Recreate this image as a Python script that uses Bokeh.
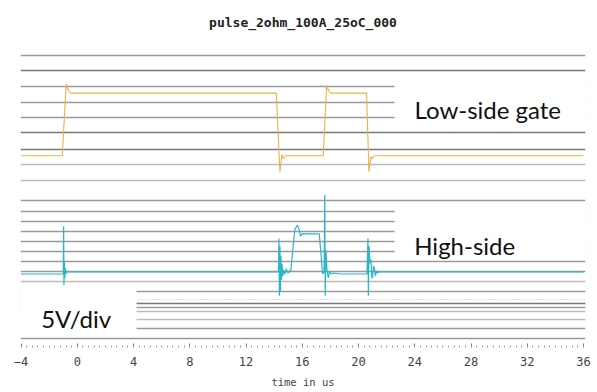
from bokeh.plotting import figure
from bokeh.models import Range1d, Grid, FixedTicker, SingleIntervalTicker, BoxAnnotation, Label
from bokeh.embed import file_html
from bokeh.resources import INLINE

# ---------------- data ----------------
title_text = "pulse_2ohm_100A_25oC_000"
x_label = "time in us"

# Low-side gate trace: time (us) / voltage (V)
gate_t = [-4.0, -1.07, -0.79, -0.70, -0.58, -0.43, 14.15, 14.41, 14.55, 14.66, 14.78,
          17.49, 17.73, 17.82, 17.94, 18.06, 20.57, 20.74, 20.87, 20.99, 21.13, 36.0]
gate_v = [-5.0, -5.0, 17.9, 16.6, 15.5, 15.0, 15.0, -10.1, -4.6, -5.9, -5.0,
          -5.0, 17.5, 16.4, 15.4, 15.0, 15.0, -10.1, -5.3, -6.0, -5.0, -5.0]

# High-side trace: time (us) / voltage (V)
hs_t = [-4.0, -1.00, -0.97, -0.95, -0.92, -0.89, -0.86, -0.82, -0.76, -0.68,
        14.30, 14.34, 14.37, 14.41, 14.44, 14.48, 14.52, 14.56, 14.61, 14.68, 14.76, 14.86, 14.98, 15.10, 15.17,
        15.47, 15.64, 15.78, 15.88, 16.02, 16.16, 17.21, 17.44, 17.55,
        17.60, 17.63, 17.68, 17.75, 17.85, 17.94, 18.05, 18.23, 18.72,
        20.60, 20.67, 20.70, 20.75, 20.81, 20.88, 20.95, 21.00, 21.06, 21.12, 21.20, 21.28, 21.36, 21.45, 36.0]
hs_v = [-6.0, -6.0, 18.0, -11.5, 0.0, -8.0, -3.0, -6.0, -4.5, -5.0,
        -5.0, 11.9, -17.0, 8.0, -15.0, 3.0, -9.0, -1.0, -7.0, -4.0, -6.0, -3.5, -5.5, -4.5, -5.0,
        16.4, 18.5, 16.5, 13.0, 14.3, 14.2, 14.2, -6.0, -5.0,
        33.8, -17.0, 6.0, -3.5, -8.0, -4.5, -6.0, -5.5, -6.0,
        -6.0, 11.9, -17.0, 8.0, -0.5, 1.3, -8.0, -7.7, -2.0, -3.0, -7.0, -4.5, -5.5, -5.0, -5.0]

annotations = ["Low-side gate", "High-side", "5V/div"]

# horizontal raster lines of the scope screen (vertical position on the screen)
grid_mid = [294.3, 263, 247, 231.3, 147.7, 137.3, 127.3, 116.7, 106.7, 96.7, 86.7, 76.3, 56.3, 40.3, 18.7, 9.5]
grid_dark = [278.7, 216, 199.7, 44.3]
grid_light = [183.7, 168.3, 66.4, 36, 27.7]
grid_dotted = [48.3]

# ---------------- figure ----------------
p = figure(width=597, height=392, output_backend="svg", toolbar_location=None,
           x_range=Range1d(-4.04, 36.14), y_range=Range1d(0, 307),
           y_axis_location=None, min_border_left=20, min_border_right=12,
           min_border_top=40, min_border_bottom=45)
p.outline_line_color = None
p.background_fill_color = "white"
p.border_fill_color = "white"
p.xgrid.visible = False
p.ygrid.visible = False

p.extra_y_ranges = {
    "gate": Range1d(-66.27, 31.19),
    "hs": Range1d(-43.0, 110.5),
}

p.title.text = title_text
p.title.align = "center"
p.title.text_font = "DejaVu Sans Mono"
p.title.text_font_size = "13px"
p.title.text_font_style = "bold"
p.title.text_color = "#222222"
p.title.standoff = 25

for ticks, color, width, dash in [(grid_mid, "#9a9a9a", 1.3, "solid"),
                                  (grid_dark, "#777777", 1.3, "solid"),
                                  (grid_light, "#bcbcbc", 1.3, "solid"),
                                  (grid_dotted, "#c4c4c4", 1.2, "1 2")]:
    g = Grid(dimension=1, ticker=FixedTicker(ticks=ticks),
             grid_line_color=color, grid_line_width=width, grid_line_dash=dash)
    p.add_layout(g)

ax = p.xaxis[0]
ax.ticker = SingleIntervalTicker(interval=4, num_minor_ticks=10)
ax.axis_line_color = None
ax.major_tick_in = 4
ax.major_tick_out = 0
ax.minor_tick_in = 2
ax.minor_tick_out = 0
ax.major_tick_line_color = "#777777"
ax.minor_tick_line_color = "#999999"
ax.major_label_text_font = "DejaVu Sans Mono"
ax.major_label_text_font_size = "12px"
ax.major_label_text_color = "#444444"
ax.major_label_standoff = 9
ax.axis_label = x_label
ax.axis_label_text_font = "DejaVu Sans Mono"
ax.axis_label_text_font_size = "10.5px"
ax.axis_label_text_font_style = "normal"
ax.axis_label_text_color = "#444444"
ax.axis_label_standoff = 7

p.line(gate_t, gate_v, y_range_name="gate", line_color="#e8b446", line_width=1.1)
p.line(hs_t, hs_v, y_range_name="hs", line_color="#2cb5c5", line_width=1.2)

# white label boxes
p.add_layout(BoxAnnotation(left=22.56, bottom=219, top=276, fill_color="white", fill_alpha=1, line_color=None))
p.add_layout(BoxAnnotation(left=22.56, bottom=91, top=145, fill_color="white", fill_alpha=1, line_color=None))
p.add_layout(BoxAnnotation(right=4.21, bottom=13, top=61, fill_color="white", fill_alpha=1, line_color=None))

for txt, x, y in zip(annotations, [23.98, 23.96, -2.57], [239.7, 103, 28.7]):
    p.add_layout(Label(x=x, y=y, text=txt, text_font="Lato", text_font_size="24px",
                       text_color="#111111", text_baseline="alphabetic", text_align="left"))

open("out.html", "w").write(file_html(p, INLINE))
